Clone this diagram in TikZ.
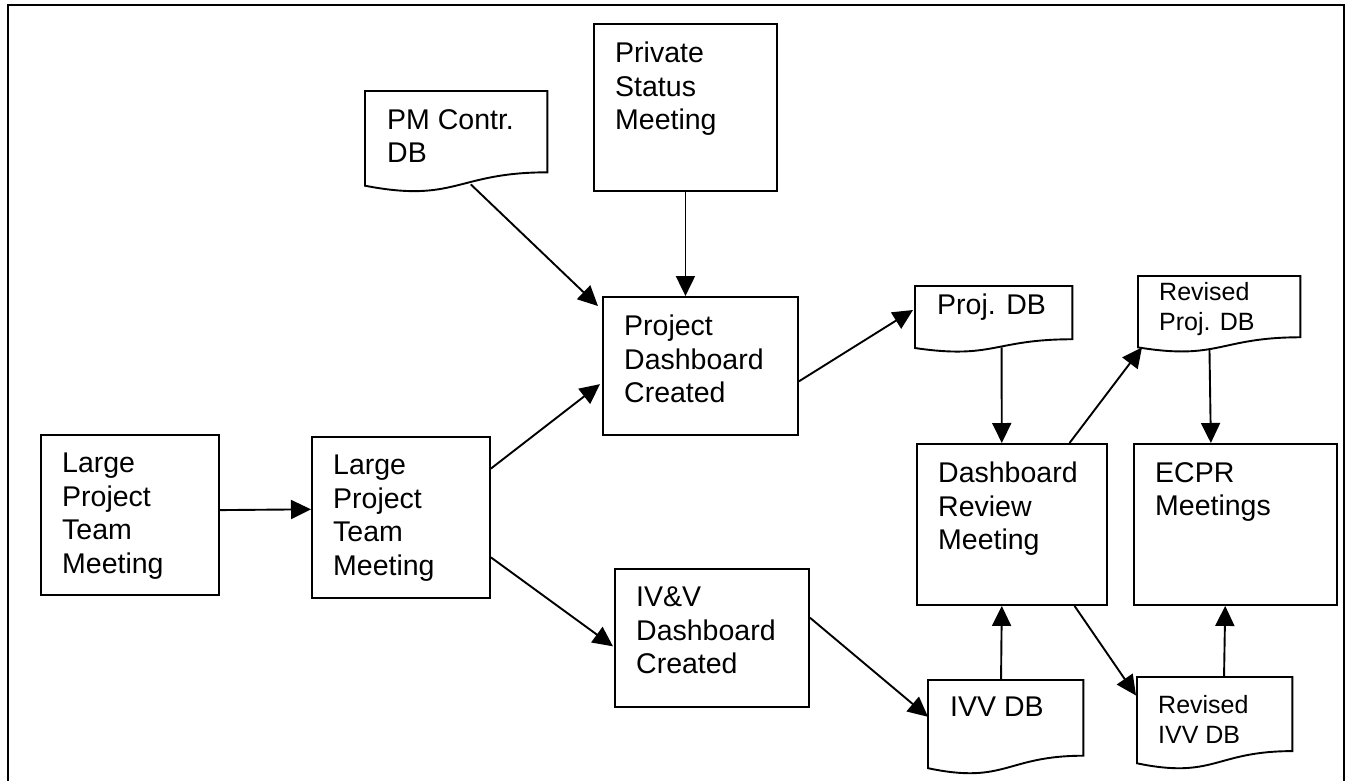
\documentclass[tikz,border=0pt]{standalone}
\usepackage{fontspec}
\setmainfont{Liberation Sans}
\usetikzlibrary{arrows.meta,calc}
\tikzset{
  ln/.style={line width=1.9pt},
  box/.style={draw, line width=1.9pt, inner sep=0pt, anchor=north west, rectangle},
  doc/.style={inner sep=0pt, anchor=north west, rectangle},
  txt/.style={anchor=north west, inner sep=0pt, align=left, font=\fontsize{28.5}{33.5}\selectfont},
  smalltxt/.style={txt, font=\fontsize{25}{30}\selectfont},
  arr/.style={line width=1.9pt, -{Triangle[length=20pt,width=19pt]}},
}
\newcommand\docoutline[1]{%
  \draw[ln, line join=miter] (#1.north west) -- (#1.north east) -- ($(#1.north east)!0.802!(#1.south east)$) .. controls ($(#1.north)!0.802!(#1.south)$) and ($(#1.north)!1.108!(#1.south)$) .. ($(#1.north west)!0.934!(#1.south west)$) -- cycle;}
\begin{document}
\begin{tikzpicture}[x=1pt,y=-1pt]
\useasboundingbox (0,0) rectangle (1348,780);
% frame
\draw[line width=2.5pt] (8,790) -- (8,5) -- (1344,5) -- (1344,790);

% boxes
\node[box, minimum width=178pt, minimum height=160pt] (A) at (40,434) {};
\node[box, minimum width=178pt, minimum height=161pt] (B) at (311,436) {};
\node[box, minimum width=195pt, minimum height=138pt] (C) at (602,296) {};
\node[box, minimum width=183pt, minimum height=167pt] (P) at (593,23) {};
\node[box, minimum width=190pt, minimum height=161pt] (R) at (916,443) {};
\node[box, minimum width=203pt, minimum height=161pt] (E) at (1133,443) {};
\node[box, minimum width=194pt, minimum height=138pt] (V) at (614,568) {};

% documents
\node[doc, minimum width=182pt, minimum height=101pt] (D1) at (365,91) {};
\node[doc, minimum width=157pt, minimum height=66pt] (D2) at (915,286) {};
\node[doc, minimum width=162pt, minimum height=76pt] (D3) at (1138,276) {};
\node[doc, minimum width=155pt, minimum height=94pt] (D4) at (928,680) {};
\node[doc, minimum width=155pt, minimum height=92pt] (D5) at (1137,677) {};
\docoutline{D1}
\docoutline{D2}
\docoutline{D3}
\docoutline{D4}
\docoutline{D5}

% texts
\node[txt] (At) at ($(A.north west)+(22,19)$) {Large\\Project\\Team\\Meeting};
\node[txt] (Bt) at ($(B.north west)+(22,19)$) {Large\\Project\\Team\\Meeting};
\node[txt] (Ct) at ($(C.north west)+(22,19)$) {Project\\Dashboard\\Created};
\node[txt] (Pt) at ($(P.north west)+(22,19)$) {Private\\Status\\Meeting};
\node[txt] (Rt) at ($(R.north west)+(22,19)$) {Dashboard\\Review\\Meeting};
\node[txt] (Et) at ($(E.north west)+(22,19)$) {ECPR\\Meetings};
\node[txt] (Vt) at ($(V.north west)+(22,19)$) {IV\&V\\Dashboard\\Created};
\node[txt] (D1t) at ($(D1.north west)+(22,18)$) {PM Contr.\\DB};
\node[txt] (D2t) at ($(D2.north west)+(22,8)$) {Proj. DB};
\node[smalltxt] (D3t) at ($(D3.north west)+(21,6)$) {Revised\\Proj. DB};
\node[txt] (D4t) at ($(D4.north west)+(22,17)$) {IVV DB};
\node[smalltxt] (D5t) at ($(D5.north west)+(21,18)$) {Revised\\IVV DB};

% connectors
\draw[arr] ($(A.north east)!0.47!(A.south east)$) -- ($(B.north west)!0.45!(B.south west)$);
\draw[arr] ($(B.north east)!0.2!(B.south east)$) -- ($(C.north west)!0.63!(C.south west)+(-2,0)$);
\draw[arr] ($(B.north east)!0.745!(B.south east)$) -- ($(V.north west)!0.56!(V.south west)+(-1,0)$);
\draw[arr] ($(D1.south west)!0.58!(D1.south east)+(0,-8)$) -- ($(C.north west)+(-4,10)$);
\draw[arr] (P.south) -- (P.south |- C.north);
\draw[arr] ($(C.north east)!0.61!(C.south east)$) -- ($(D2.north west)+(-2,24)$);
\draw[arr] ($(D2.south west)!0.55!(D2.south east)+(0,-5)$) -- ($(R.north west)!0.447!(R.north east)$);
\draw[arr] ($(R.north west)!0.8!(R.north east)$) -- ($(D3.north west)!0.934!(D3.south west)+(4,0)$);
\draw[arr] ($(D3.south west)!0.44!(D3.south east)+(0,-4)$) -- ($(E.north west)!0.38!(E.north east)$);
\draw[arr] ($(V.north east)!0.355!(V.south east)$) -- ($(D4.north west)!0.39!(D4.south west)$);
\draw[arr] ($(D4.north west)!0.47!(D4.north east)$) -- ($(R.south west)!0.447!(R.south east)$);
\draw[arr] ($(R.south west)!0.826!(R.south east)$) -- ($(D5.north west)!0.2!(D5.south west)+(-1,0)$);
\draw[arr] ($(D5.north west)!0.56!(D5.north east)$) -- ($(E.south west)!0.45!(E.south east)$);
\end{tikzpicture}
\end{document}
